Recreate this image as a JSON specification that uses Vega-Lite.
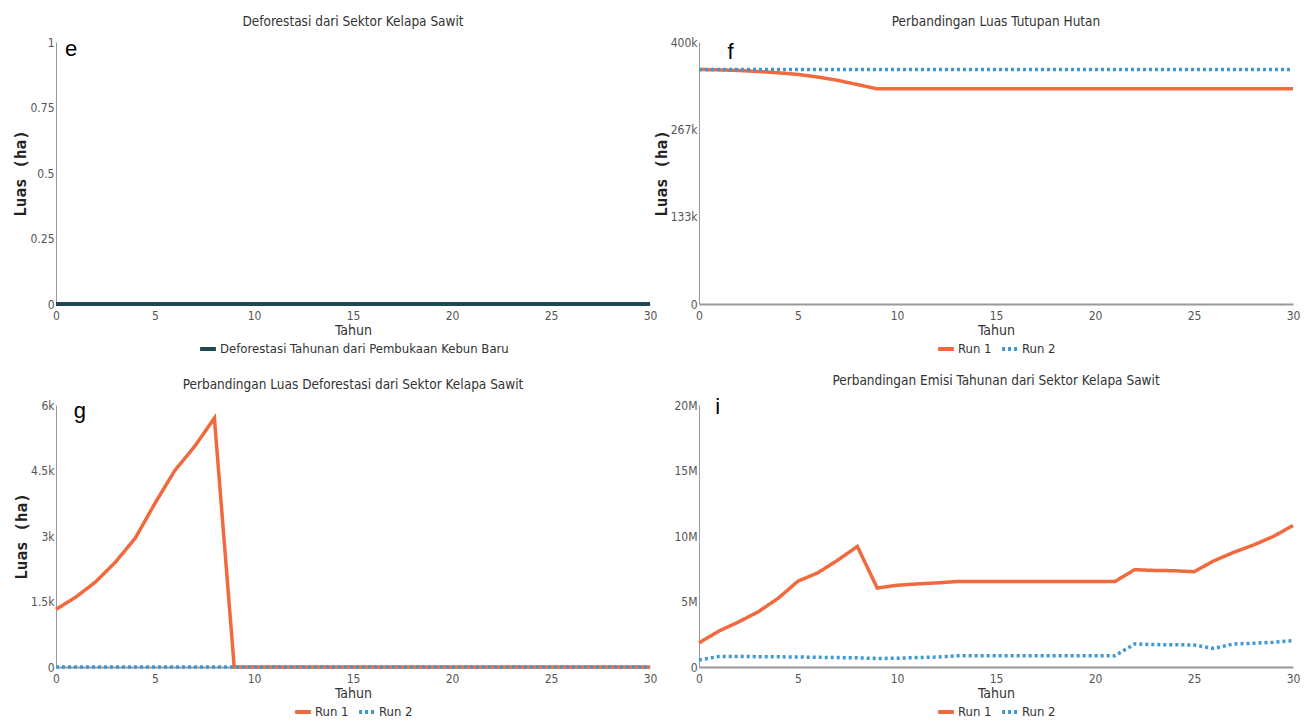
{
  "$schema": "https://vega.github.io/schema/vega-lite/v6.json",
  "padding": {"left": 12, "top": 14, "right": 8, "bottom": 2},
  "background": "white",
  "columns": 2,
  "spacing": {"row": 17, "column": -5},
  "resolve": {"scale": {"x": "independent", "y": "independent", "color": "independent", "strokeDash": "independent"}},
  "concat": [
    {
      "width": 594, "height": 262,
      "title": "Deforestasi dari Sektor Kelapa Sawit",
      "layer": [
        {
          "data": {"values": [
            {"Tahun":0,"Deforestasi Tahunan dari Pembukaan Kebun Baru":0},{"Tahun":1,"Deforestasi Tahunan dari Pembukaan Kebun Baru":0},{"Tahun":2,"Deforestasi Tahunan dari Pembukaan Kebun Baru":0},{"Tahun":3,"Deforestasi Tahunan dari Pembukaan Kebun Baru":0},{"Tahun":4,"Deforestasi Tahunan dari Pembukaan Kebun Baru":0},{"Tahun":5,"Deforestasi Tahunan dari Pembukaan Kebun Baru":0},{"Tahun":6,"Deforestasi Tahunan dari Pembukaan Kebun Baru":0},{"Tahun":7,"Deforestasi Tahunan dari Pembukaan Kebun Baru":0},{"Tahun":8,"Deforestasi Tahunan dari Pembukaan Kebun Baru":0},{"Tahun":9,"Deforestasi Tahunan dari Pembukaan Kebun Baru":0},{"Tahun":10,"Deforestasi Tahunan dari Pembukaan Kebun Baru":0},
            {"Tahun":11,"Deforestasi Tahunan dari Pembukaan Kebun Baru":0},{"Tahun":12,"Deforestasi Tahunan dari Pembukaan Kebun Baru":0},{"Tahun":13,"Deforestasi Tahunan dari Pembukaan Kebun Baru":0},{"Tahun":14,"Deforestasi Tahunan dari Pembukaan Kebun Baru":0},{"Tahun":15,"Deforestasi Tahunan dari Pembukaan Kebun Baru":0},{"Tahun":16,"Deforestasi Tahunan dari Pembukaan Kebun Baru":0},{"Tahun":17,"Deforestasi Tahunan dari Pembukaan Kebun Baru":0},{"Tahun":18,"Deforestasi Tahunan dari Pembukaan Kebun Baru":0},{"Tahun":19,"Deforestasi Tahunan dari Pembukaan Kebun Baru":0},{"Tahun":20,"Deforestasi Tahunan dari Pembukaan Kebun Baru":0},
            {"Tahun":21,"Deforestasi Tahunan dari Pembukaan Kebun Baru":0},{"Tahun":22,"Deforestasi Tahunan dari Pembukaan Kebun Baru":0},{"Tahun":23,"Deforestasi Tahunan dari Pembukaan Kebun Baru":0},{"Tahun":24,"Deforestasi Tahunan dari Pembukaan Kebun Baru":0},{"Tahun":25,"Deforestasi Tahunan dari Pembukaan Kebun Baru":0},{"Tahun":26,"Deforestasi Tahunan dari Pembukaan Kebun Baru":0},{"Tahun":27,"Deforestasi Tahunan dari Pembukaan Kebun Baru":0},{"Tahun":28,"Deforestasi Tahunan dari Pembukaan Kebun Baru":0},{"Tahun":29,"Deforestasi Tahunan dari Pembukaan Kebun Baru":0},{"Tahun":30,"Deforestasi Tahunan dari Pembukaan Kebun Baru":0}
          ]},
          "transform": [{"fold": ["Deforestasi Tahunan dari Pembukaan Kebun Baru"], "as": ["Seri", "Luas"]}],
          "mark": {"type": "line", "strokeWidth": 4},
          "encoding": {
            "x": {"field": "Tahun", "type": "quantitative", "scale": {"domain": [0, 30], "nice": false}, "axis": {"values": [0,5,10,15,20,25,30], "title": "Tahun"}},
            "y": {"field": "Luas", "type": "quantitative", "scale": {"domain": [0, 1], "nice": false}, "axis": {"values": [0,0.25,0.5,0.75,1], "format": ".2~f", "title": "Luas (ha)"}},
            "color": {"field": "Seri", "type": "nominal", "scale": {"range": ["#1d4a52"]}, "legend": {"title": null}}
          }
        },
        {
          "data": {"values": [{"label": "e"}]},
          "mark": {"type": "text", "font": "Liberation Sans", "fontSize": 22, "color": "black"},
          "encoding": {"x": {"datum": 0.76}, "y": {"datum": 0.973}, "text": {"field": "label"}}
        }
      ]
    },
    {
      "width": 594, "height": 262,
      "title": "Perbandingan Luas Tutupan Hutan",
      "layer": [
        {
          "data": {"values": [
            {"Tahun":0,"Run 1":358000,"Run 2":358000},{"Tahun":1,"Run 1":357500,"Run 2":358000},{"Tahun":2,"Run 1":356500,"Run 2":358000},{"Tahun":3,"Run 1":355000,"Run 2":358000},{"Tahun":4,"Run 1":353000,"Run 2":358000},{"Tahun":5,"Run 1":350500,"Run 2":358000},{"Tahun":6,"Run 1":346500,"Run 2":358000},{"Tahun":7,"Run 1":341500,"Run 2":358000},{"Tahun":8,"Run 1":335000,"Run 2":358000},{"Tahun":9,"Run 1":328500,"Run 2":358000},{"Tahun":10,"Run 1":328500,"Run 2":358000},
            {"Tahun":11,"Run 1":328500,"Run 2":358000},{"Tahun":12,"Run 1":328500,"Run 2":358000},{"Tahun":13,"Run 1":328500,"Run 2":358000},{"Tahun":14,"Run 1":328500,"Run 2":358000},{"Tahun":15,"Run 1":328500,"Run 2":358000},{"Tahun":16,"Run 1":328500,"Run 2":358000},{"Tahun":17,"Run 1":328500,"Run 2":358000},{"Tahun":18,"Run 1":328500,"Run 2":358000},{"Tahun":19,"Run 1":328500,"Run 2":358000},{"Tahun":20,"Run 1":328500,"Run 2":358000},
            {"Tahun":21,"Run 1":328500,"Run 2":358000},{"Tahun":22,"Run 1":328500,"Run 2":358000},{"Tahun":23,"Run 1":328500,"Run 2":358000},{"Tahun":24,"Run 1":328500,"Run 2":358000},{"Tahun":25,"Run 1":328500,"Run 2":358000},{"Tahun":26,"Run 1":328500,"Run 2":358000},{"Tahun":27,"Run 1":328500,"Run 2":358000},{"Tahun":28,"Run 1":328500,"Run 2":358000},{"Tahun":29,"Run 1":328500,"Run 2":358000},{"Tahun":30,"Run 1":328500,"Run 2":358000}
          ]},
          "transform": [{"fold": ["Run 1", "Run 2"], "as": ["Run", "Luas"]}],
          "mark": {"type": "line", "strokeWidth": 3.5},
          "encoding": {
            "x": {"field": "Tahun", "type": "quantitative", "scale": {"domain": [0, 30], "nice": false}, "axis": {"values": [0,5,10,15,20,25,30], "title": "Tahun"}},
            "y": {"field": "Luas", "type": "quantitative", "scale": {"domain": [0, 400000], "nice": false}, "axis": {"values": [0,133333,266667,400000], "format": ".3~s", "title": "Luas (ha)"}},
            "color": {"field": "Run", "type": "nominal", "scale": {"domain": ["Run 1", "Run 2"], "range": ["#f06a3e", "#3d98d3"]}, "legend": {"title": null}},
            "strokeDash": {"field": "Run", "type": "nominal", "scale": {"domain": ["Run 1", "Run 2"], "range": [[1, 0], [3, 3]]}, "legend": {"title": null}}
          }
        },
        {
          "data": {"values": [{"label": "f"}]},
          "mark": {"type": "text", "font": "Liberation Sans", "fontSize": 22, "color": "black"},
          "encoding": {"x": {"datum": 1.6}, "y": {"datum": 384500}, "text": {"field": "label"}}
        }
      ]
    },
    {
      "width": 594, "height": 262,
      "title": "Perbandingan Luas Deforestasi dari Sektor Kelapa Sawit",
      "layer": [
        {
          "data": {"values": [
            {"Tahun":0,"Run 1":1320,"Run 2":0},{"Tahun":1,"Run 1":1600,"Run 2":0},{"Tahun":2,"Run 1":1950,"Run 2":0},{"Tahun":3,"Run 1":2400,"Run 2":0},{"Tahun":4,"Run 1":2950,"Run 2":0},{"Tahun":5,"Run 1":3750,"Run 2":0},{"Tahun":6,"Run 1":4500,"Run 2":0},{"Tahun":7,"Run 1":5050,"Run 2":0},{"Tahun":8,"Run 1":5700,"Run 2":0},{"Tahun":9,"Run 1":0,"Run 2":0},{"Tahun":10,"Run 1":0,"Run 2":0},
            {"Tahun":11,"Run 1":0,"Run 2":0},{"Tahun":12,"Run 1":0,"Run 2":0},{"Tahun":13,"Run 1":0,"Run 2":0},{"Tahun":14,"Run 1":0,"Run 2":0},{"Tahun":15,"Run 1":0,"Run 2":0},{"Tahun":16,"Run 1":0,"Run 2":0},{"Tahun":17,"Run 1":0,"Run 2":0},{"Tahun":18,"Run 1":0,"Run 2":0},{"Tahun":19,"Run 1":0,"Run 2":0},{"Tahun":20,"Run 1":0,"Run 2":0},
            {"Tahun":21,"Run 1":0,"Run 2":0},{"Tahun":22,"Run 1":0,"Run 2":0},{"Tahun":23,"Run 1":0,"Run 2":0},{"Tahun":24,"Run 1":0,"Run 2":0},{"Tahun":25,"Run 1":0,"Run 2":0},{"Tahun":26,"Run 1":0,"Run 2":0},{"Tahun":27,"Run 1":0,"Run 2":0},{"Tahun":28,"Run 1":0,"Run 2":0},{"Tahun":29,"Run 1":0,"Run 2":0},{"Tahun":30,"Run 1":0,"Run 2":0}
          ]},
          "transform": [{"fold": ["Run 1", "Run 2"], "as": ["Run", "Luas"]}],
          "mark": {"type": "line", "strokeWidth": 3.5},
          "encoding": {
            "x": {"field": "Tahun", "type": "quantitative", "scale": {"domain": [0, 30], "nice": false}, "axis": {"values": [0,5,10,15,20,25,30], "title": "Tahun"}},
            "y": {"field": "Luas", "type": "quantitative", "scale": {"domain": [0, 6000], "nice": false}, "axis": {"values": [0,1500,3000,4500,6000], "format": ".2~s", "title": "Luas (ha)"}},
            "color": {"field": "Run", "type": "nominal", "scale": {"domain": ["Run 1", "Run 2"], "range": ["#f06a3e", "#3d98d3"]}, "legend": {"title": null}},
            "strokeDash": {"field": "Run", "type": "nominal", "scale": {"domain": ["Run 1", "Run 2"], "range": [[1, 0], [3, 3]]}, "legend": {"title": null}}
          }
        },
        {
          "data": {"values": [{"label": "g"}]},
          "mark": {"type": "text", "font": "Liberation Sans", "fontSize": 22, "color": "black"},
          "encoding": {"x": {"datum": 1.2}, "y": {"datum": 5864}, "text": {"field": "label"}}
        }
      ]
    },
    {
      "width": 594, "height": 262,
      "title": "Perbandingan Emisi Tahunan dari Sektor Kelapa Sawit",
      "layer": [
        {
          "data": {"values": [
            {"Tahun":0,"Run 1":1840000,"Run 2":540000},{"Tahun":1,"Run 1":2740000,"Run 2":800000},{"Tahun":2,"Run 1":3440000,"Run 2":800000},{"Tahun":3,"Run 1":4220000,"Run 2":790000},{"Tahun":4,"Run 1":5250000,"Run 2":780000},{"Tahun":5,"Run 1":6550000,"Run 2":760000},{"Tahun":6,"Run 1":7190000,"Run 2":740000},{"Tahun":7,"Run 1":8150000,"Run 2":720000},{"Tahun":8,"Run 1":9200000,"Run 2":700000},{"Tahun":9,"Run 1":6030000,"Run 2":650000},{"Tahun":10,"Run 1":6240000,"Run 2":670000},
            {"Tahun":11,"Run 1":6340000,"Run 2":720000},{"Tahun":12,"Run 1":6420000,"Run 2":760000},{"Tahun":13,"Run 1":6520000,"Run 2":850000},{"Tahun":14,"Run 1":6520000,"Run 2":850000},{"Tahun":15,"Run 1":6520000,"Run 2":850000},{"Tahun":16,"Run 1":6520000,"Run 2":850000},{"Tahun":17,"Run 1":6520000,"Run 2":850000},{"Tahun":18,"Run 1":6520000,"Run 2":850000},{"Tahun":19,"Run 1":6520000,"Run 2":850000},{"Tahun":20,"Run 1":6520000,"Run 2":850000},
            {"Tahun":21,"Run 1":6520000,"Run 2":850000},{"Tahun":22,"Run 1":7430000,"Run 2":1760000},{"Tahun":23,"Run 1":7370000,"Run 2":1710000},{"Tahun":24,"Run 1":7350000,"Run 2":1700000},{"Tahun":25,"Run 1":7270000,"Run 2":1680000},{"Tahun":26,"Run 1":8100000,"Run 2":1420000},{"Tahun":27,"Run 1":8750000,"Run 2":1760000},{"Tahun":28,"Run 1":9310000,"Run 2":1810000},{"Tahun":29,"Run 1":9960000,"Run 2":1890000},{"Tahun":30,"Run 1":10800000,"Run 2":2020000}
          ]},
          "transform": [{"fold": ["Run 1", "Run 2"], "as": ["Run", "Emisi"]}],
          "mark": {"type": "line", "strokeWidth": 3.5},
          "encoding": {
            "x": {"field": "Tahun", "type": "quantitative", "scale": {"domain": [0, 30], "nice": false}, "axis": {"values": [0,5,10,15,20,25,30], "title": "Tahun"}},
            "y": {"field": "Emisi", "type": "quantitative", "scale": {"domain": [0, 20000000], "nice": false}, "axis": {"values": [0,5000000,10000000,15000000,20000000], "format": ".2~s", "title": null}},
            "color": {"field": "Run", "type": "nominal", "scale": {"domain": ["Run 1", "Run 2"], "range": ["#f06a3e", "#3d98d3"]}, "legend": {"title": null}},
            "strokeDash": {"field": "Run", "type": "nominal", "scale": {"domain": ["Run 1", "Run 2"], "range": [[1, 0], [3, 3]]}, "legend": {"title": null}}
          }
        },
        {
          "data": {"values": [{"label": "i"}]},
          "mark": {"type": "text", "font": "Liberation Sans", "fontSize": 22, "color": "black"},
          "encoding": {"x": {"datum": 0.95}, "y": {"datum": 19850000}, "text": {"field": "label"}}
        }
      ]
    }
  ],
  "config": {
    "view": {"stroke": null},
    "font": "DejaVu Sans Condensed",
    "title": {"font": "DejaVu Sans Condensed", "fontSize": 13.5, "fontWeight": "normal", "color": "#333333", "anchor": "middle", "offset": 8},
    "axis": {"ticks": false, "grid": false, "domainColor": "#999999", "labelFont": "DejaVu Sans Condensed", "labelFontSize": 12, "labelColor": "#555555", "labelPadding": 6, "titleFont": "DejaVu Sans Condensed", "titleFontSize": 14, "titleFontWeight": "normal", "titleColor": "#333333", "titlePadding": 2},
    "axisX": {"domainWidth": 2, "labelFlush": false},
    "axisY": {"titleFont": "DejaVu Sans Mono", "titleFontWeight": "bold", "titleFontSize": 16, "titleColor": "#222222", "titlePadding": 1, "labelPadding": 2},
    "legend": {"orient": "bottom", "direction": "horizontal", "labelFont": "DejaVu Sans Condensed", "labelFontSize": 13, "labelColor": "#333333", "labelLimit": 0, "symbolType": "stroke", "symbolSize": 250, "symbolStrokeWidth": 4, "columnPadding": 2, "labelOffset": 2, "offset": 2, "padding": 0, "layout": {"bottom": {"anchor": "middle"}}}
  }
}
